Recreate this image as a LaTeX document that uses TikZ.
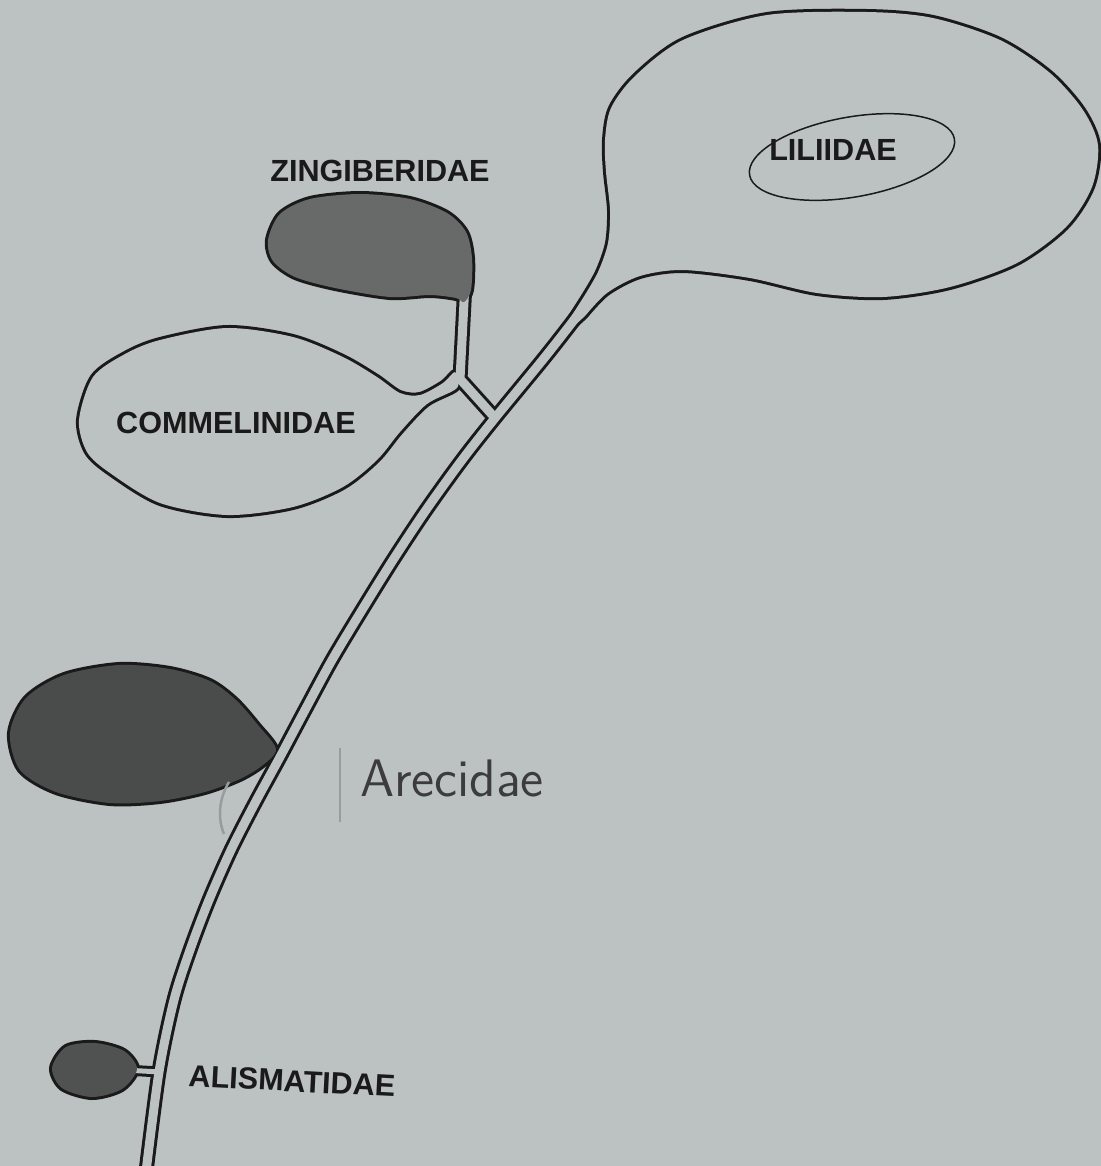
\documentclass[tikz,border=0pt]{standalone}
\usepackage{fontspec}
\setmainfont{Liberation Sans}
\usetikzlibrary{calc}

\definecolor{paper}{RGB}{188,193,193}
\definecolor{ink}{RGB}{26,26,26}
\definecolor{zinfill}{RGB}{104,106,106}
\definecolor{arefill}{RGB}{74,76,76}
\definecolor{alifill}{RGB}{80,82,82}

% outlines of the bubbles and the stem, in pixel units
\def\trunkpath{plot[smooth] coordinates {(145,1180) (159,1072) (174,1000) (190,950) (209,900) (231,850) (255,803) (280,757) (305,710) (332,660) (362,610) (393,560) (426,510) (462,460) (495,418) (545,357) (580,312) (600,284) (612,267)}}
\def\lilpath{(560,334) -- plot[smooth] coordinates {(583,298) (598,272) (608,243) (610,210) (606,172) (605,140) (611,108) (635,76) (683,40) (767,15) (867,12) (933,18) (1000,40) (1050,73) (1083,110) (1098,145) (1092,187) (1066,227) (1017,263) (950,287) (883,297) (817,293) (750,278) (683,270) (640,276) (607,293) (585,316)} -- (563,336) -- cycle}
\def\compath{plot[smooth cycle] coordinates {(455,372) (443,383) (420,395) (400,393) (377,377) (343,357) (293,337) (227,328) (160,340) (125,354) (93,377) (79,420) (87,452) (110,473) (160,503) (227,515) (293,507) (343,487) (377,460) (400,432) (427,404) (457,388)}}
\def\zinpath{plot[smooth cycle] coordinates {(268,240) (280,214) (310,199) (360,194) (410,199) (447,213) (466,232) (472,258) (471,290) (464,302) (456,298) (430,295) (390,297) (335,288) (295,277) (273,261)}}
\def\arepath{plot[smooth cycle] coordinates {(276,749) (258,725) (236,700) (210,681) (170,669) (119,665) (64,675) (26,698) (10,733) (20,770) (56,792) (110,803) (160,801) (205,792) (240,779) (263,765)}}
\def\alipath{plot[smooth cycle] coordinates {(137,1069) (124,1051) (95,1043) (66,1047) (52,1068) (62,1088) (92,1097) (122,1089)}}

\begin{document}
\begin{tikzpicture}[x=0.01cm, y=-0.01cm,
  tubeout/.style={draw=ink, line width=1.5mm, line join=round},
  tubein/.style={draw=paper, line width=0.9mm, line join=round},
  stalkout/.style={draw=ink, line width=1.1mm},
  stalkin/.style={draw=paper, line width=0.5mm},
  rim/.style={draw=ink, line width=0.6mm, line join=round},
  taxon/.style={font=\bfseries\fontsize{8.7}{10}\selectfont, text=ink, inner sep=0pt},
  hand/.style={font=\sffamily\fontsize{15}{18}\selectfont, text=ink!85, inner sep=0pt},
  faint/.style={draw=ink!22!paper, line width=0.25mm}
]
\fill[paper] (0,0) rectangle (1101,1166);
\useasboundingbox (0,0) rectangle (1101,1166);
\clip (0,0) rectangle (1101,1166);

\coordinate (fork) at (460,379);
\coordinate (forkbase) at (496,419);
\coordinate (zintop) at (465,283);
\coordinate (alistalk) at (125,1070);
\coordinate (alibase) at (160,1072);

% black rims first
\path[rim] \lilpath;
\path[rim] \compath;
\path[rim] \zinpath;
\path[rim] \arepath;
\path[rim] \alipath;
\draw[tubeout] \trunkpath;
\draw[tubeout] (forkbase) -- (fork) -- (zintop);
\draw[stalkout] (alistalk) -- (alibase);

% light insides
\fill[paper] \lilpath;
\fill[paper] \compath;
\draw[tubein] \trunkpath;
\draw[tubein] (forkbase) -- (fork) -- (zintop);
\draw[stalkin] (alistalk) -- (alibase);

% dark subclasses
\fill[zinfill] \zinpath;
\fill[arefill] \arepath;
\fill[alifill] \alipath;

\draw[ink, line width=0.15mm, rotate around={10:(852,157)}] (852,157) ellipse [x radius=104, y radius=40];

\node[taxon] (lil) at (833,150) {LILIIDAE};
\node[taxon] (zin) at (380,171) {ZINGIBERIDAE};
\node[taxon] (com) at (236,423) {COMMELINIDAE};
\node[taxon, rotate=-3] (ali) at (292,1081) {ALISMATIDAE};
\node[hand] (are) at (452,778) {Arecidae};

\draw[faint] (340,748) -- (340,822);
\draw[faint] (229,782) .. controls (218,800) and (218,820) .. (224,834);
\end{tikzpicture}
\end{document}
